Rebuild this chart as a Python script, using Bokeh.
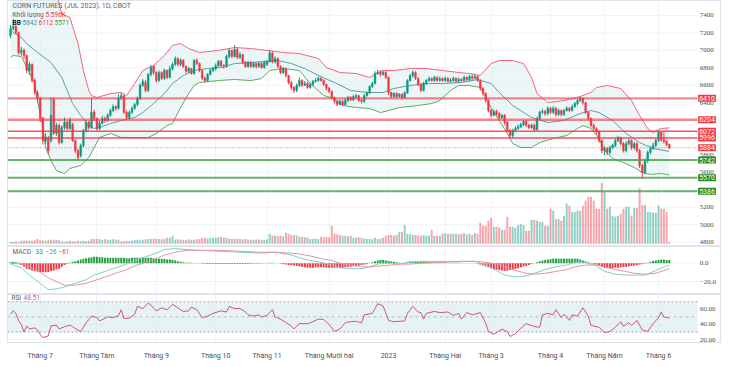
from bokeh.plotting import figure
from bokeh.models import Range1d, FixedTicker, Label, ColumnDataSource
from bokeh.layouts import column
from bokeh.embed import file_html
from bokeh.resources import INLINE

# ---------------- data ----------------
open_ = [7170, 7250, 7275, 7205, 6975, 7000, 6940, 6770, 6840, 6655,
         6515, 6450, 6220, 5965, 6000, 5965, 6440, 6050, 6140, 5945,
         6115, 6175, 6105, 6150, 5965, 5850, 5795, 5910, 6080, 6175,
         6115, 6290, 6220, 6105, 6165, 6220, 6195, 6255, 6310, 6355,
         6335, 6450, 6480, 6290, 6230, 6290, 6335, 6380, 6450, 6600,
         6630, 6540, 6725, 6815, 6745, 6655, 6745, 6680, 6770, 6690,
         6790, 6840, 6905, 6840, 6885, 6815, 6760, 6790, 6735, 6885,
         6850, 6770, 6680, 6655, 6725, 6770, 6790, 6825, 6875, 6825,
         6815, 6930, 7000, 6930, 7010, 6920, 6950, 6860, 6815, 6860,
         6815, 6850, 6815, 6850, 6805, 6840, 6870, 6970, 6870, 6905,
         6815, 6745, 6790, 6710, 6630, 6575, 6540, 6600, 6655, 6600,
         6620, 6575, 6610, 6645, 6655, 6680, 6655, 6610, 6565, 6530,
         6460, 6415, 6380, 6415, 6380, 6425, 6460, 6435, 6470, 6480,
         6425, 6415, 6480, 6515, 6585, 6620, 6735, 6745, 6725, 6750,
         6690, 6515, 6470, 6505, 6470, 6495, 6460, 6515, 6655, 6710,
         6745, 6680, 6610, 6540, 6620, 6655, 6675, 6655, 6690, 6655,
         6675, 6655, 6680, 6645, 6655, 6680, 6645, 6665, 6655, 6690,
         6665, 6700, 6680, 6700, 6655, 6565, 6505, 6425, 6310, 6255,
         6300, 6275, 6230, 6255, 6175, 6080, 6025, 6080, 6105, 6125,
         6150, 6185, 6140, 6115, 6140, 6090, 6220, 6290, 6300, 6275,
         6335, 6290, 6335, 6265, 6310, 6265, 6310, 6335, 6310, 6355,
         6390, 6425, 6450, 6400, 6290, 6220, 6140, 6105, 6070, 5965,
         5850, 5875, 5830, 5885, 5910, 5965, 6000, 5930, 5850, 5930,
         5965, 5885, 5930, 5850, 5680, 5600, 5735, 5830, 5875, 5910,
         5965, 6060, 5975, 5955, 5920]
close = [7250, 7275, 7205, 6975, 7000, 6940, 6770, 6840, 6655, 6515,
         6450, 6220, 5965, 6000, 5850, 6255, 6050, 6140, 5945, 6115,
         6175, 6105, 6195, 5965, 5850, 5770, 5910, 6080, 6175, 6115,
         6290, 6220, 6105, 6165, 6220, 6195, 6255, 6310, 6355, 6335,
         6450, 6480, 6290, 6230, 6290, 6335, 6380, 6450, 6600, 6645,
         6540, 6725, 6805, 6745, 6655, 6745, 6680, 6770, 6690, 6790,
         6840, 6905, 6840, 6885, 6815, 6760, 6790, 6735, 6885, 6850,
         6770, 6680, 6655, 6725, 6770, 6790, 6825, 6875, 6825, 6815,
         6930, 7000, 6930, 7010, 6920, 6950, 6860, 6815, 6860, 6815,
         6850, 6815, 6850, 6805, 6860, 6870, 6970, 6870, 6905, 6815,
         6745, 6790, 6710, 6630, 6575, 6540, 6600, 6655, 6600, 6620,
         6575, 6610, 6645, 6655, 6680, 6655, 6610, 6565, 6530, 6460,
         6415, 6380, 6415, 6380, 6425, 6460, 6435, 6470, 6480, 6425,
         6415, 6480, 6515, 6585, 6620, 6735, 6745, 6725, 6750, 6690,
         6515, 6470, 6505, 6470, 6495, 6460, 6515, 6655, 6710, 6745,
         6680, 6610, 6540, 6620, 6655, 6675, 6655, 6690, 6655, 6675,
         6655, 6680, 6645, 6655, 6680, 6645, 6665, 6655, 6690, 6665,
         6700, 6680, 6700, 6655, 6565, 6505, 6425, 6310, 6255, 6300,
         6275, 6230, 6255, 6175, 6080, 6025, 6080, 6105, 6125, 6150,
         6185, 6140, 6115, 6140, 6090, 6220, 6290, 6300, 6275, 6335,
         6290, 6335, 6265, 6310, 6265, 6310, 6335, 6310, 6355, 6390,
         6425, 6450, 6400, 6290, 6220, 6140, 6105, 6070, 5965, 5850,
         5875, 5830, 5885, 5910, 5965, 6000, 5930, 5850, 5930, 5965,
         5885, 5930, 5850, 5680, 5600, 5735, 5830, 5875, 5910, 5965,
         6060, 5975, 5955, 5920, 5884]
high = [7290, 7360, 7300, 7215, 7040, 7020, 6950, 6870, 6850, 6680,
        6540, 6460, 6240, 6050, 6020, 6460, 6460, 6170, 6160, 6140,
        6230, 6190, 6230, 6170, 5980, 5870, 5930, 6100, 6200, 6190,
        6460, 6320, 6230, 6190, 6250, 6240, 6280, 6330, 6380, 6370,
        6495, 6510, 6490, 6310, 6310, 6360, 6400, 6470, 6620, 6670,
        6660, 6740, 6830, 6830, 6760, 6770, 6760, 6790, 6780, 6820,
        6860, 6930, 6920, 6910, 6900, 6830, 6810, 6800, 6900, 6910,
        6860, 6780, 6700, 6740, 6790, 6810, 6850, 6890, 6890, 6840,
        6950, 7020, 7010, 7060, 7030, 6980, 6960, 6880, 6880, 6880,
        6870, 6860, 6870, 6860, 6880, 6890, 7000, 6990, 6930, 6920,
        6830, 6810, 6800, 6720, 6650, 6590, 6620, 6690, 6670, 6650,
        6640, 6630, 6660, 6680, 6700, 6690, 6670, 6620, 6580, 6540,
        6470, 6430, 6440, 6430, 6450, 6480, 6475, 6490, 6500, 6490,
        6440, 6500, 6530, 6600, 6640, 6760, 6780, 6770, 6770, 6760,
        6700, 6530, 6520, 6520, 6510, 6510, 6530, 6670, 6730, 6770,
        6760, 6690, 6620, 6640, 6670, 6700, 6690, 6710, 6700, 6700,
        6690, 6700, 6690, 6680, 6700, 6690, 6690, 6680, 6710, 6700,
        6720, 6720, 6730, 6710, 6670, 6580, 6520, 6440, 6330, 6320,
        6320, 6290, 6270, 6270, 6190, 6100, 6100, 6130, 6150, 6170,
        6200, 6200, 6160, 6160, 6160, 6240, 6310, 6330, 6320, 6360,
        6350, 6360, 6350, 6330, 6320, 6330, 6360, 6350, 6380, 6410,
        6440, 6470, 6460, 6410, 6300, 6230, 6160, 6120, 6080, 5980,
        5900, 5890, 5910, 5930, 5990, 6020, 6010, 5950, 5960, 5990,
        5980, 5950, 5950, 5870, 5700, 5760, 5850, 5900, 5940, 5990,
        6080, 6070, 6060, 5970, 5930]
low = [7140, 7230, 7180, 6950, 6940, 6900, 6740, 6720, 6630, 6490,
       6400, 6180, 5920, 5930, 5815, 5940, 6030, 6020, 5920, 5930,
       6090, 6080, 6090, 5950, 5820, 5740, 5770, 5890, 6060, 6090,
       6100, 6190, 6080, 6080, 6150, 6170, 6180, 6240, 6290, 6310,
       6320, 6430, 6270, 6210, 6210, 6270, 6320, 6360, 6430, 6580,
       6520, 6520, 6700, 6720, 6630, 6640, 6660, 6660, 6670, 6680,
       6770, 6820, 6820, 6820, 6800, 6740, 6740, 6720, 6720, 6830,
       6750, 6660, 6630, 6640, 6710, 6750, 6770, 6810, 6810, 6790,
       6800, 6910, 6910, 6920, 6900, 6900, 6840, 6800, 6800, 6800,
       6800, 6790, 6800, 6790, 6790, 6820, 6860, 6850, 6850, 6800,
       6730, 6730, 6690, 6610, 6550, 6510, 6520, 6580, 6580, 6590,
       6560, 6560, 6590, 6630, 6640, 6640, 6590, 6540, 6510, 6440,
       6390, 6360, 6370, 6360, 6370, 6410, 6420, 6420, 6450, 6410,
       6390, 6400, 6470, 6500, 6570, 6610, 6720, 6700, 6710, 6670,
       6490, 6450, 6460, 6450, 6460, 6440, 6450, 6500, 6640, 6690,
       6660, 6590, 6520, 6530, 6600, 6640, 6640, 6640, 6640, 6640,
       6640, 6640, 6630, 6630, 6640, 6630, 6630, 6640, 6640, 6650,
       6650, 6660, 6670, 6640, 6540, 6480, 6400, 6290, 6230, 6240,
       6250, 6210, 6210, 6150, 6060, 5990, 6000, 6060, 6090, 6110,
       6130, 6120, 6100, 6100, 6070, 6080, 6200, 6270, 6250, 6260,
       6270, 6270, 6240, 6250, 6240, 6250, 6300, 6290, 6300, 6340,
       6370, 6410, 6380, 6270, 6200, 6120, 6080, 6040, 5940, 5820,
       5800, 5800, 5810, 5870, 5890, 5950, 5910, 5830, 5830, 5910,
       5860, 5860, 5830, 5650, 5530, 5580, 5710, 5810, 5860, 5890,
       5950, 5950, 5930, 5900, 5870]
volume_k = [7, 7, 9, 7, 11, 11, 13, 11, 11, 13, 18, 13, 13, 11, 15, 13, 15, 15, 13,
            9, 7, 9, 11, 9, 9, 11, 9, 11, 9, 11, 18, 18, 18, 17,
            15, 17, 15, 15, 17, 15, 15, 9, 9, 11, 9, 11, 15, 15, 13, 15, 17,
            18, 18, 20, 18, 18, 17, 18, 22, 22, 30,
            15, 17, 15, 15, 13, 17, 15, 15, 17, 18, 22, 22, 20, 22, 22,
            22, 24, 26, 22, 22, 20, 18, 18, 20, 18, 17, 18,
            15, 15, 15, 17, 15, 15, 15, 17, 37, 30, 31, 28, 30, 28, 41, 37,
            33, 33, 31, 26, 26, 24, 24, 18, 18, 20, 18, 26, 24, 26, 24, 67,
            37, 35, 33, 30, 30, 28, 30, 22, 22, 24, 22, 20,
            18, 18, 17, 22, 18, 20, 22, 30, 33, 33, 31, 33, 44, 44, 70,
            37, 35, 33, 33, 31, 30, 33, 30, 31, 52, 30, 30, 30,
            37, 39, 35, 37, 37, 37, 35, 37, 39, 35, 37, 33, 39, 37,
            78, 67, 67, 85, 96, 63, 63, 59, 52, 52, 100, 63, 63, 59,
            70, 74, 70, 48, 48, 89, 89, 85, 81, 81, 67, 67,
            130, 122, 92, 92, 85, 104, 148, 141, 118, 118, 122, 122, 141,
            159, 174, 174, 159, 130, 130, 226, 192, 130, 137,
            104, 100, 104, 111, 130, 137, 137, 104, 133, 133, 207,
            144, 144, 118, 118, 115, 115, 141, 130, 130, 118, 5.596]
macd_hist = [1, 1.5, 1, 0.5, -2, -4, -6, -7, -8, -8.5, -9,
             -9.5, -10, -10, -9.5, -8.5, -8, -7, -6, -4,
             -2, -1, 0.5, 1.5, 2, 3, 4, 5, 5.5, 6, 6.5,
             7, 7, 6.5, 6.5, 6,
             6, 6, 6, 6, 6, 6, 6, 5.5, 5.5, 6,
             6, 6, 6, 6, 6, 6, 6, 5.5, 5, 5,
             5, 4.5, 4, 4, 3.5, 3, 2, 1.5, 1, 0.5,
             0.5, 0.5, -0.3, -0.3, -0.3,
             -0.5, -0.5, -1, -1, -1, -1, -1, -1, -1, -1,
             -1, -1, -1, -1, -1, -1, -1, -1, -0.5, -0.5,
             -0.5, -0.5, -0.5, 0.2, 0.3, 0.5, 0.5, 0.2, -0.2, -0.5,
             -1, -1.5, -2, -2, -2.5, -3, -3.5, -4, -4.5, -5,
             -5, -5, -4.5, -4.5, -4.5, -4.5, -5, -5, -5, -5,
             -5, -5, -5, -4.5, -4, -4, -3.5, -3, -2.5, -2,
             -1.5, -1, 0.3, 1, 2, 3, 3.5, 3.5, 3, 2.5,
             2, 1.5, 1, 0.5, 0.2, 0.5, 1.5, 2, 2, 2,
             2, 2, 2, 1.5, 1.5, 1, 1, 1, 1, 1,
             1, 0.5, 0.5, 0.5, 0.5, 0.5, 0.3, 0.3, 0.2, 0.2,
             0.2, 0.2, -0.5, -1.5, -2.5, -3.5, -4.5, -5.5, -6.5, -7,
             -7.5, -8, -8.5, -8, -7.5, -7, -6.5, -5.5, -4.5, -3.5,
             -3, -2, -1, 0.2, 1, 2, 3, 3.5, 4, 4.5,
             5, 5, 5, 5, 5, 5, 5, 5, 5, 5,
             4, 3, 2, 1, 0.2, -1, -1.5, -2.5, -4, -5,
             -5.5, -5.5, -5.5, -5, -5, -4.5, -4, -4, -3.5, -3,
             -2.5, -2, -1.5, -1, -0.5, 0.5, 1.5, 2.5, 3, 3.5,
             4, 4, 3.5, 3.5]

macd_idx = [0, 4, 7, 11, 14, 17, 20, 24, 28, 31, 35, 39, 43, 46, 50, 54, 57, 61, 65, 70,
            78, 85, 93, 98, 104, 107, 111, 115, 119, 122, 126, 130, 133, 137, 141, 144, 148, 152, 159, 167,
            172, 176, 180, 183, 187, 191, 194, 198, 202, 206, 209, 213, 217, 220, 224, 228, 231, 235, 239, 243, 244]
macd_line = [-1, -5, -13, -22, -29, -28, -26, -22, -18, -13, -9, -5, -1, 3, 7, 11, 15, 16, 15, 14,
             13, 12, 11, 12, 9, 6, 3, 1, -2, -5, -6, -6, -4, 0, 0, -1, 1, 2, 2, 2,
             2, -2, -8, -13, -15, -14, -11, -7, -4, -2, 1, 1, -3, -9, -12, -13, -13, -13, -8, -3, -2.6]
signal_line = [0, -1, -4, -10, -16, -20, -24, -24, -22, -19, -15, -11, -7, -3, 1, 5, 9, 12, 14, 14,
               14, 13, 12, 12, 11, 10, 8, 5, 3, 0, -2, -4, -4, -3, -2, -1, -1, 0, 1, 2,
               2, 1, -1, -4, -8, -11, -12, -11, -9, -7, -4, -2, -2, -4, -7, -9, -11, -12, -11, -7, -6.1]

rsi_idx = [0, 1, 2, 3, 4, 5, 6, 7, 9, 10, 11, 12, 14, 15, 17, 18, 20, 22, 23, 25,
           26, 28, 29, 30, 32, 33, 35, 36, 38, 40, 41, 42, 44, 46, 47, 49, 51, 52, 54, 56,
           58, 60, 62, 64, 66, 67, 69, 71, 73, 75, 78, 80, 81, 83, 85, 87, 88, 90, 92, 93,
           95, 97, 98, 100, 102, 104, 105, 107, 110, 111, 114, 116, 118, 120, 122, 124, 126, 128, 130, 131,
           134, 136, 138, 140, 142, 146, 147, 149, 151, 152, 153, 154, 157, 159, 162, 164, 166, 167, 169, 171,
           172, 174, 176, 177, 179, 182, 184, 185, 187, 189, 191, 194, 196, 197, 199, 201, 202, 204, 205, 207,
           208, 210, 212, 214, 215, 218, 220, 222, 224, 226, 227, 229, 230, 232, 234, 236, 238, 240, 241, 242, 244]
rsi_vals = [53.5, 58, 54.6, 45, 40, 30, 38, 34, 35.5, 32.5, 27, 22.6, 25, 38, 39, 34, 37, 39, 37, 32.5,
            30.7, 42, 46.5, 51, 49, 44.7, 48, 50, 49, 51.7, 59.4, 48, 48, 53.5, 63.8, 61, 68, 65.6, 58, 62,
            59.4, 66.7, 62, 57, 58, 63, 59.4, 49, 51, 54.6, 58, 56.4, 63.8, 61, 61.2, 56.4, 52.7, 51, 52.7, 49.8,
            52, 59.4, 49.8, 47, 42.5, 38, 34, 41, 41, 42, 47, 46.5, 40, 30.7, 34, 42.5, 43.6, 44.3, 42, 52.7,
            54.6, 67.4, 64.5, 45.4, 43.6, 44.7, 54.6, 63.8, 56.4, 55.7, 47, 54.6, 57.2, 55.7, 56.4, 52, 54.6, 47, 55.7, 52.7,
            53.5, 55.7, 41.7, 30.7, 27, 33.7, 30.7, 24, 27.8, 35, 41, 37.3, 36.2, 52.7, 54.6, 52.7, 59.4, 49, 53.5, 45.4,
            52.7, 51, 62, 51, 38.8, 36.2, 29, 30.7, 36.2, 43.6, 37.3, 42.5, 38.8, 45.4, 32.6, 30.7, 41, 49, 56.4, 49.8, 48.5]

bb_up_idx = [0, 6, 12, 17, 19, 22, 25, 27, 29, 30, 32, 37, 41, 43, 46, 49, 53, 57, 60, 63,
             66, 70, 77, 83, 89, 95, 101, 107, 114, 117, 122, 128, 133, 136, 138, 142, 148, 154, 160, 166,
             170, 174, 178, 181, 186, 190, 193, 195, 199, 205, 211, 215, 217, 221, 226, 230, 233, 236, 238, 241, 244]
bb_upper = [7650, 7750, 7800, 7650, 7420, 7377, 7079, 6769, 6540, 6482, 6459, 6505, 6517, 6482, 6620, 6769, 6827, 6941, 7056, 7079,
            7021, 6976, 6999, 7033, 7021, 6999, 6976, 6964, 6907, 6804, 6746, 6735, 6689, 6746, 6769, 6769, 6792, 6792, 6769, 6746,
            6735, 6712, 6849, 6884, 6884, 6849, 6689, 6505, 6402, 6425, 6471, 6517, 6574, 6597, 6563, 6425, 6253, 6104, 6058, 6104, 6112]
bb_lo_idx = [0, 1, 4, 6, 9, 10, 12, 13, 15, 17, 20, 22, 26, 29, 31, 33, 37, 41, 46, 51,
             54, 58, 60, 63, 66, 68, 70, 77, 83, 89, 93, 96, 101, 107, 111, 116, 120, 123, 128, 133,
             137, 140, 144, 151, 156, 159, 163, 166, 170, 174, 178, 181, 184, 186, 189, 193, 196, 201, 206, 210,
             212, 215, 218, 220, 223, 227, 231, 234, 237, 241, 244]
bb_lower = [6918, 6941, 6930, 6804, 6620, 6425, 6115, 5886, 5737, 5622, 5588, 5645, 5680, 5771, 5886, 6001, 6047, 6001, 6001, 6001,
            6047, 6138, 6161, 6345, 6505, 6597, 6632, 6654, 6666, 6654, 6677, 6769, 6792, 6769, 6620, 6482, 6448, 6368, 6345, 6333,
            6287, 6310, 6345, 6368, 6391, 6425, 6540, 6597, 6597, 6574, 6345, 6196, 6047, 5932, 5886, 5886, 5943, 5989, 6024, 6104,
            6138, 6104, 5989, 5852, 5760, 5714, 5657, 5599, 5576, 5588, 5571]
bb_mid_idx = [0, 1, 4, 6, 10, 15, 19, 21, 23, 26, 29, 31, 33, 37, 41, 46, 49, 53, 57, 60,
              64, 68, 73, 78, 83, 89, 99, 104, 109, 114, 120, 126, 132, 138, 142, 148, 154, 160, 167, 173,
              178, 181, 186, 193, 199, 205, 211, 215, 218, 223, 228, 233, 238, 244]
bb_basis = [7239, 7205, 7148, 7079, 6976, 6861, 6689, 6540, 6391, 6253, 6138, 6104, 6115, 6161, 6196, 6230, 6287, 6391, 6505, 6620,
            6712, 6769, 6792, 6804, 6849, 6861, 6884, 6849, 6792, 6712, 6631, 6540, 6517, 6517, 6563, 6597, 6620, 6620, 6632, 6666,
            6620, 6517, 6368, 6230, 6173, 6196, 6276, 6310, 6287, 6196, 6047, 5943, 5875, 5842]

month_idx = [11, 32, 54, 76, 95, 118, 140, 161, 178, 200, 220, 240]
month_labels = ["Tháng 7", "Tháng Tám", "Tháng 9", "Tháng 10", "Tháng 11", "Tháng Mười hai",
                "2023", "Tháng Hai", "Tháng 3", "Tháng 4", "Tháng Năm", "Tháng 6"]
price_ticks = [4800, 5000, 5200, 5400, 5600, 5800, 6000, 6200, 6400, 6600, 6800, 7000, 7200, 7400]
price_tick_text = ["4800", "5000", "5200", "5400", "5600", "5800", "6000", "6200", "6400", "6600",
                   "6800", "7000", "7200", "7400"]
macd_ticks = [-20, 0]
macd_tick_text = ["−20.0", "0.0"]
rsi_ticks = [20, 40, 60]
rsi_tick_text = ["20.00", "40.00", "60.00"]
rsi_levels = [70, 50, 30]

level_vals = [6450, 6204, 6072, 5996, 5742, 5540, 5386]
level_text = ["6410", "6204", "6072", "5996", "5742", "5570", "5386"]
level_kind = ["r", "r", "r", "r", "g", "g", "g"]
last_price = 5884

title_text = "CORN FUTURES (JUL 2023), 1D, CBOT"
vol_title, vol_value = "Khối lượng", "5.596K"
bb_vals = ["5842", "6112", "5571"]
macd_vals = ["33", "−26", "−61"]
rsi_value = "48.51"

# ---------------- styling ----------------
UP, DOWN = "#089981", "#F23645"
FONT = "Roboto"
W = 721
LEFT = 7
X0, XEND = -1.11, 263.33      # visible bar-index range (frame spans scale + chart)
XPLOT = 254.44                # right end of the chart area (price scale starts here)
XLAB = 255.3                  # price scale text position
GRID = "#f0f3fa"
TXT = "#4a4d57"

n = min(len(open_), len(close), len(high), len(low), len(volume_k), len(macd_hist))
idx = list(range(n))
cols = [UP if close[i] >= open_[i] else DOWN for i in idx]
src = ColumnDataSource(dict(
    x=idx, h=high[:n], l=low[:n],
    top=[max(open_[i], close[i]) for i in idx], bot=[min(open_[i], close[i]) for i in idx],
    col=cols, vol=volume_k[:n], hist=macd_hist[:n],
    hcol=["#22a03c" if v >= 0 else "#f23645" for v in macd_hist[:n]],
))

xr = Range1d(X0, XEND)


def make_fig(h, yr, ticks, tick_text, xaxis=False):
    p = figure(width=W, height=h, x_range=xr, y_range=yr, output_backend="svg",
               toolbar_location=None, y_axis_location=None,
               x_axis_location="below" if xaxis else None, title=None,
               min_border_left=LEFT, min_border_right=0, min_border_top=0,
               min_border_bottom=14 if xaxis else 0)
    p.background_fill_color = "white"
    p.border_fill_color = "white"
    p.outline_line_color = "#e0e3eb"
    p.xgrid.ticker = FixedTicker(ticks=month_idx)
    p.xgrid.grid_line_color = GRID
    p.ygrid.grid_line_color = None
    k = len(ticks)
    p.segment(x0=[X0] * k, y0=ticks, x1=[XPLOT] * k, y1=ticks, line_color=GRID, line_width=1)
    p.text(x=[XLAB] * k, y=ticks, text=tick_text, text_font=FONT, text_font_size="7px",
           text_color=TXT, text_baseline="middle", text_align="left")
    return p


def lab(p, x, y, t, color, size="6.5px", bold=False):
    p.add_layout(Label(x=x, y=y, x_units="screen", y_units="screen", text=t, text_font=FONT,
                       text_font_size=size, text_color=color, text_baseline="middle",
                       text_font_style="bold" if bold else "normal"))


def hline(p, v, color, alpha, width, dash="solid"):
    p.segment(x0=[X0], y0=[v], x1=[XPLOT], y1=[v], line_color=color, line_alpha=alpha,
              line_width=width, line_dash=dash)


def box(p, v, t, bg):
    p.add_layout(Label(x=XPLOT + 0.25, y=v, x_units="data", y_units="data", text=t,
                       text_font=FONT, text_font_size="7px", text_color="white",
                       text_baseline="middle", background_fill_color=bg, padding=1))


# ---------------- main price panel ----------------
p1 = make_fig(246, Range1d(4751, 7572), price_ticks, price_tick_text)
p1.extra_y_ranges = {"vol": Range1d(-10, 901)}

bx = bb_up_idx + bb_lo_idx[::-1]
by = bb_upper + bb_lower[::-1]
p1.patch(bx, by, fill_color="#dceeee", fill_alpha=0.55, line_color=None)
p1.vbar(x="x", top="vol", bottom=0, width=0.72, y_range_name="vol", source=src,
        fill_color="col", fill_alpha=0.45, line_color=None)
p1.line(bb_up_idx, bb_upper, line_color="#f2657a", line_width=1)
p1.line(bb_lo_idx, bb_lower, line_color="#5aad5e", line_width=1)
p1.line(bb_mid_idx, bb_basis, line_color="#5c9ea6", line_width=1)
p1.segment(x0="x", y0="l", x1="x", y1="h", source=src, line_color="col", line_width=1)
p1.vbar(x="x", top="top", bottom="bot", width=0.62, source=src, fill_color="col", line_color="col",
        line_width=0.5)

for v, t, k in zip(level_vals, level_text, level_kind):
    if k == "r":
        strong = v < 6100
        hline(p1, v, "#f23645", 0.85 if strong else 0.6, 1.6 if strong else 2.4)
    else:
        hline(p1, v, "#43a047", 0.8, 2)
hline(p1, last_price, "#f23645", 0.8, 1, "1 2")
for v, t, k in zip(level_vals, level_text, level_kind):
    box(p1, v, t, "#f23645" if k == "r" else "#1f8b24")
box(p1, last_price, str(last_price), "#f23645")

lab(p1, 5, 241, title_text, "#5d606b", size="7px")
lab(p1, 5, 232, vol_title, "#5d606b")
lab(p1, 38, 232, vol_value, "#f23645")
lab(p1, 5, 224, "BB", "#131722", bold=True)
lab(p1, 15, 224, bb_vals[0], "#3f8f99")
lab(p1, 31, 224, bb_vals[1], "#f23645")
lab(p1, 47, 224, bb_vals[2], "#43a047")

# ---------------- MACD panel ----------------
p2 = make_fig(48, Range1d(-34.2, 18.25), macd_ticks, macd_tick_text)
p2.vbar(x="x", top="hist", bottom=0, width=0.72, source=src, fill_color="hcol", line_color=None)
p2.line(macd_idx, macd_line, line_color="#7fcfc6", line_width=1)
p2.line(macd_idx, signal_line, line_color="#e593ab", line_width=1)
lab(p2, 5, 43, "MACD", "#5d606b")
lab(p2, 28, 43, macd_vals[0], "#22a03c")
lab(p2, 38, 43, macd_vals[1], "#3f9f99")
lab(p2, 51, 43, macd_vals[2], "#f23645")

# ---------------- RSI panel ----------------
p3 = make_fig(68, Range1d(16.1, 79.6), rsi_ticks, rsi_tick_text, xaxis=True)
p3.varea(x=[X0, XPLOT], y1=[30, 30], y2=[70, 70], fill_color="#d7e9ec", fill_alpha=0.6)
for lvl, dash, a in zip(rsi_levels, ("2 2", "3 3", "2 2"), (0.8, 0.6, 0.8)):
    hline(p3, lvl, "#9598a1", a, 1, dash)
p3.line(rsi_idx, rsi_vals, line_color="#c9587e", line_width=1)
lab(p3, 4, 45, "RSI", "#5d606b")
lab(p3, 16, 45, rsi_value, "#c9587e")
xa = p3.xaxis[0]
xa.ticker = FixedTicker(ticks=month_idx)
xa.major_label_overrides = {i: t for i, t in zip(month_idx, month_labels)}
xa.axis_line_color = None
xa.major_tick_line_color = None
xa.minor_tick_line_color = None
xa.major_label_standoff = 3
xa.major_label_text_font_size = "7px"
xa.major_label_text_color = TXT
xa.major_label_text_font = FONT

layout = column(p1, p2, p3, spacing=0)
open("out.html", "w").write(file_html(layout, INLINE, "Corn futures"))
